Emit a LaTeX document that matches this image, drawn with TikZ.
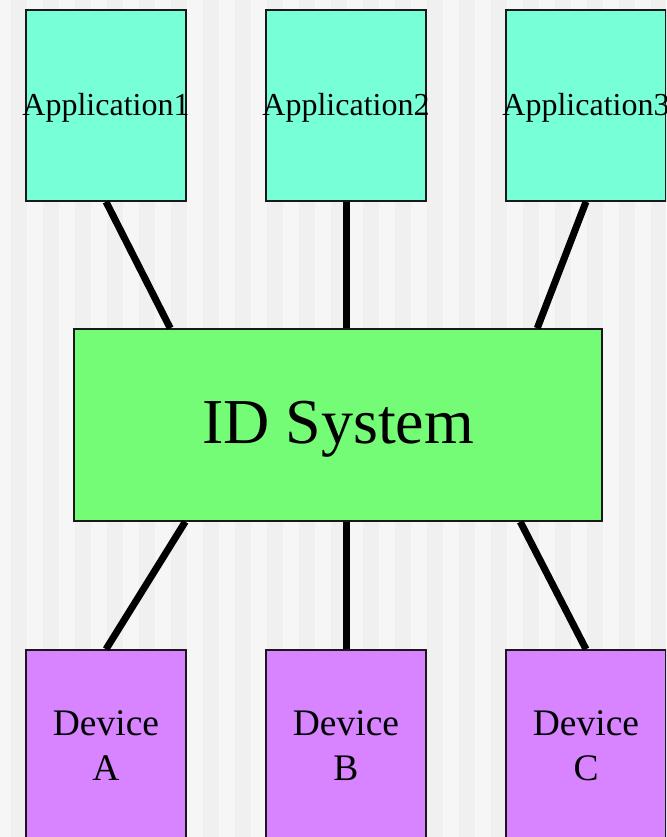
\documentclass[tikz,border=0pt]{standalone}
\usepackage{fontspec}
\setmainfont{Liberation Serif}
\definecolor{bgA}{HTML}{F6F6F6}
\definecolor{bgB}{HTML}{F0F0F0}
\definecolor{appc}{HTML}{77FFD7}
\definecolor{idc}{HTML}{75FC77}
\definecolor{devc}{HTML}{D883FF}
\tikzset{
  box/.style={draw=black!90, line width=1.5pt, inner sep=0pt, minimum width=160pt, minimum height=191pt, align=center},
  appbox/.style={box, fill=appc, font=\fontsize{32}{36}\selectfont},
  devbox/.style={box, fill=devc, font=\fontsize{37.5}{45}\selectfont},
  idbox/.style={draw=black!90, line width=1.5pt, inner sep=0pt, minimum width=528pt, minimum height=192pt, fill=idc, font=\fontsize{64}{70}\selectfont},
  link/.style={line width=7pt, black},
  lbl/.style={inner sep=0pt, align=center}
}
\begin{document}
\begin{tikzpicture}[x=1pt,y=-1pt]
\useasboundingbox (0,0) rectangle (666,837);
\clip (0,0) rectangle (666,837);
\fill[bgA] (0,0) rectangle (666,837);
\foreach \i in {0,...,20} {
  \fill[bgB] ({11+32*\i},0) rectangle ({27+32*\i},837);
}
\node[appbox] (app1) at (106,105.5) {};
\node[appbox] (app2) at (346,105.5) {};
\node[appbox] (app3) at (586,105.5) {};
\node[idbox] (id) at (338,425) {};
\node[devbox] (devA) at (106,745.5) {};
\node[devbox] (devB) at (346,745.5) {};
\node[devbox] (devC) at (586,745.5) {};
\node[lbl, font=\fontsize{32}{36}\selectfont] (t1) at ([yshift=-2pt]app1.center) {Application1};
\node[lbl, font=\fontsize{32}{36}\selectfont] (t2) at ([yshift=-2pt]app2.center) {Application2};
\node[lbl, font=\fontsize{32}{36}\selectfont] (t3) at ([yshift=-2pt]app3.center) {Application3};
\node[lbl, font=\fontsize{64}{70}\selectfont] (tid) at ([yshift=-4pt]id.center) {ID System};
\node[lbl, font=\fontsize{37.5}{45}\selectfont] (tA) at (devA.center) {Device\\A};
\node[lbl, font=\fontsize{37.5}{45}\selectfont] (tB) at (devB.center) {Device\\B};
\node[lbl, font=\fontsize{37.5}{45}\selectfont] (tC) at (devC.center) {Device\\C};
\draw[link] (app1.south) -- ([xshift=97pt]id.north west);
\draw[link] (app2.south) -- (id.north -| app2.south);
\draw[link] (app3.south) -- ([xshift=464pt]id.north west);
\draw[link] ([xshift=112pt]id.south west) -- (devA.north);
\draw[link] (id.south -| devB.north) -- (devB.north);
\draw[link] ([xshift=447pt]id.south west) -- (devC.north);
\end{tikzpicture}
\end{document}
